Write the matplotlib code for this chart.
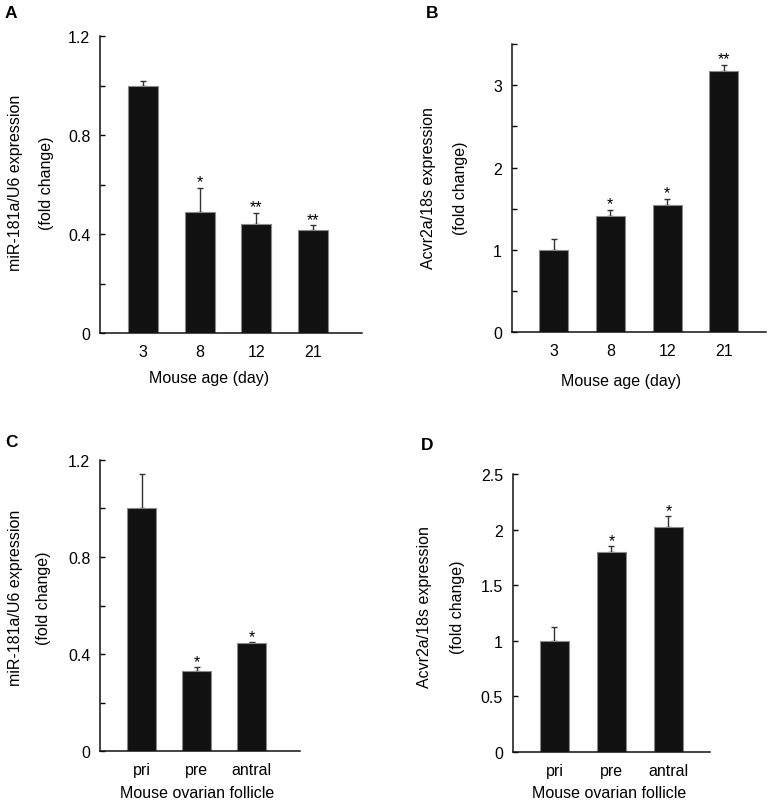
import matplotlib
matplotlib.use("Agg")
import matplotlib.pyplot as plt
import numpy as np

plt.rcParams['font.family'] = ['Liberation Sans', 'DejaVu Sans']

# ---- data ----
age_labels = ["3", "8", "12", "21"]
follicle_labels = ["pri", "pre", "antral"]

a_vals = [1.00, 0.49, 0.44, 0.417]
a_err = [0.02, 0.097, 0.045, 0.018]
a_stars = ["", "*", "**", "**"]

b_vals = [1.00, 1.41, 1.54, 3.17]
b_err = [0.13, 0.08, 0.08, 0.08]
b_stars = ["", "*", "*", "**"]

c_vals = [1.00, 0.33, 0.444]
c_err = [0.14, 0.015, 0.005]
c_stars = ["", "*", "*"]

d_vals = [1.00, 1.80, 2.025]
d_err = [0.12, 0.05, 0.095]
d_stars = ["", "*", "*"]

a_yticks = [0, 0.2, 0.4, 0.6, 0.8, 1.0, 1.2]
a_ylabels = ["0", "", "0.4", "", "0.8", "", "1.2"]
b_yticks = [0, 0.5, 1, 1.5, 2, 2.5, 3, 3.5]
b_ylabels = ["0", "", "1", "", "2", "", "3", ""]
d_yticks = [0, 0.5, 1, 1.5, 2, 2.5]
d_ylabels = ["0", "0.5", "1", "1.5", "2", "2.5"]

W, H = 770, 804
fig = plt.figure(figsize=(W / 100, H / 100), dpi=100)


def rect(l, r, t, b):
    return [l / W, 1 - b / H, (r - l) / W, (b - t) / H]


def fx(x):
    return x / W


def fy(y):
    return 1 - y / H


FS = 11.5
BAR_C = "#111111"


def panel(r, vals, errs, stars, cats, xlim, ylim, yticks, ylabels, width):
    ax = fig.add_axes(r)
    x = np.arange(len(vals))
    ax.bar(x, vals, width=width, color=BAR_C, edgecolor="#8a8a8a", linewidth=0.8, zorder=2)
    ax.errorbar(x, vals, yerr=[np.zeros(len(vals)), errs], fmt="none",
                ecolor="#333333", elinewidth=1.0, capsize=2.2, capthick=1.0, zorder=1)
    for xi, v, e, s in zip(x, vals, errs, stars):
        if s:
            ax.annotate(s, (xi, v + e), xytext=(0, 1.0), textcoords="offset points",
                        ha="center", va="baseline", fontsize=FS)
    ax.set_xlim(*xlim)
    ax.set_ylim(*ylim)
    ax.set_xticks(x)
    ax.set_xticklabels(cats, fontsize=FS)
    ax.set_yticks(yticks)
    ax.set_yticklabels(ylabels, fontsize=FS)
    ax.tick_params(axis="x", length=0, pad=8)
    ax.tick_params(axis="y", direction="in", length=3.5, width=1.0, pad=7)
    for sp in ["top", "right"]:
        ax.spines[sp].set_visible(False)
    for sp in ["left", "bottom"]:
        ax.spines[sp].set_linewidth(1.1)
        ax.spines[sp].set_color("#111111")
    return ax


# Panel A
panel(rect(100, 362, 37, 334), a_vals, a_err, a_stars, age_labels,
      (-0.758, 3.862), (0, 1.2), a_yticks, a_ylabels, 0.53)
# Panel B
panel(rect(511.7, 766, 45, 333.3), b_vals, b_err, b_stars, age_labels,
      (-0.736, 3.741), (0, 3.5), b_yticks, b_ylabels, 0.51)
# Panel C
panel(rect(100, 300, 460.7, 752.3), c_vals, c_err, c_stars, follicle_labels,
      (-0.758, 2.878), (0, 1.2), a_yticks, a_ylabels, 0.52)
# Panel D
panel(rect(512.7, 710, 475, 752.7), d_vals, d_err, d_stars, follicle_labels,
      (-0.733, 2.728), (0, 2.5), d_yticks, d_ylabels, 0.51)

# x labels
fig.text(fx(209), fy(379), "Mouse age (day)", ha="center", va="center", fontsize=FS)
fig.text(fx(621), fy(381.5), "Mouse age (day)", ha="center", va="center", fontsize=FS)
fig.text(fx(197), fy(794), "Mouse ovarian follicle", ha="center", va="center", fontsize=FS)
fig.text(fx(609), fy(794), "Mouse ovarian follicle", ha="center", va="center", fontsize=FS)

# y labels (two lines each)
for (x1, x2, yc, l1) in [(16, 46.5, 183, "miR-181a/U6 expression"),
                          (429, 460, 188.5, "Acvr2a/18s expression"),
                          (16, 43.5, 598, "miR-181a/U6 expression"),
                          (425, 457.5, 607, "Acvr2a/18s expression")]:
    fig.text(fx(x1), fy(yc), l1, rotation=90, ha="center", va="center", fontsize=FS)
    fig.text(fx(x2), fy(yc), "(fold change)", rotation=90, ha="center", va="center", fontsize=FS)

# panel letters
for (x, y, s) in [(11, 13, "A"), (432, 14, "B"), (11.5, 442.5, "C"), (427, 446, "D")]:
    fig.text(fx(x), fy(y), s, ha="center", va="center", fontsize=12.5, fontweight="bold")

fig.savefig("out.png", dpi=100)
